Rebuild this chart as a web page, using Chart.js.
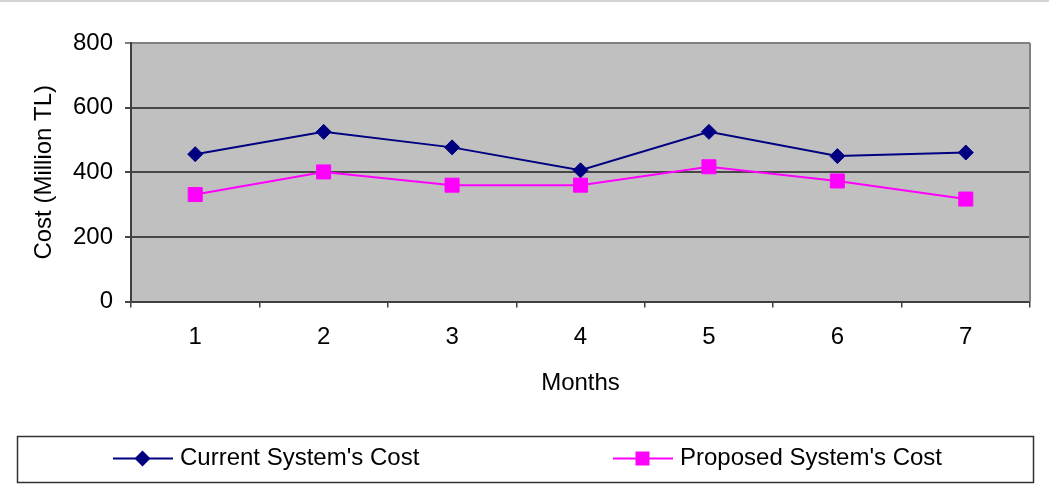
<!DOCTYPE html>
<html>
<head>
<meta charset="utf-8">
<script src="https://cdn.jsdelivr.net/npm/chart.js@4/dist/chart.umd.min.js"></script>
<style>
  body { margin: 0; background: #fff; }
  canvas { display: block; }
</style>
</head>
<body>
<canvas id="chart" width="1049" height="491"></canvas>
<script>
const months = ['1', '2', '3', '4', '5', '6', '7'];
const currentCost = [456, 525, 477, 406, 525, 450, 461];
const proposedCost = [331, 401, 360, 360, 417, 373, 317];
const yTicks = [0, 200, 400, 600, 800];
const seriesNames = ["Current System's Cost", "Proposed System's Cost"];

const fontFamily = '"Liberation Sans", Arial, sans-serif';

// plot background, borders, top rule and the boxed legend
const excelLook = {
  id: 'excelLook',
  beforeDraw (chart) {
    const {ctx, chartArea: a} = chart;
    ctx.save();
    ctx.fillStyle = '#c0c0c0';
    ctx.fillRect(a.left, a.top, a.right - a.left, a.bottom - a.top);
    ctx.strokeStyle = '#d4d4d4';
    ctx.lineWidth = 2;
    ctx.beginPath();
    ctx.moveTo(0, 1);
    ctx.lineTo(chart.width, 1);
    ctx.stroke();
    ctx.restore();
  },
  afterDraw (chart) {
    const {ctx, chartArea: a} = chart;
    ctx.save();
    // right border
    ctx.strokeStyle = '#808080';
    ctx.lineWidth = 2;
    ctx.beginPath();
    ctx.moveTo(a.right, a.top);
    ctx.lineTo(a.right, a.bottom);
    ctx.stroke();

    // legend box
    ctx.strokeStyle = '#333';
    ctx.lineWidth = 1.5;
    ctx.strokeRect(17.5, 436.5, 1016, 46);

    const y = 458.5;
    const starts = [113, 613];
    chart.data.datasets.forEach((ds, i) => {
      const x0 = starts[i];
      ctx.strokeStyle = ds.borderColor;
      ctx.lineWidth = 2;
      ctx.beginPath();
      ctx.moveTo(x0, y);
      ctx.lineTo(x0 + 60, y);
      ctx.stroke();
      const cx = x0 + 29.5;
      ctx.fillStyle = ds.backgroundColor;
      ctx.beginPath();
      if (ds.pointStyle === 'rectRot') {
        const r = 8;
        ctx.moveTo(cx, y - r);
        ctx.lineTo(cx + r, y);
        ctx.lineTo(cx, y + r);
        ctx.lineTo(cx - r, y);
        ctx.closePath();
      } else {
        const h = 7;
        ctx.rect(cx - h, y - h, 2 * h, 2 * h);
      }
      ctx.fill();
      ctx.fillStyle = '#000';
      ctx.font = '24px ' + fontFamily;
      ctx.textBaseline = 'middle';
      ctx.textAlign = 'left';
      ctx.fillText(ds.label, x0 + 67, y);
    });
    ctx.restore();
  }
};

new Chart(document.getElementById('chart'), {
  type: 'line',
  data: {
    labels: months,
    datasets: [{
      label: seriesNames[0],
      data: currentCost,
      borderColor: '#000080',
      backgroundColor: '#000080',
      borderWidth: 2,
      pointStyle: 'rectRot',
      pointRadius: 7.5,
      pointBorderWidth: 1,
      tension: 0
    }, {
      label: seriesNames[1],
      data: proposedCost,
      borderColor: '#ff00ff',
      backgroundColor: '#ff00ff',
      borderWidth: 2,
      pointStyle: 'rect',
      pointRadius: 9.9,
      pointBorderWidth: 1,
      tension: 0
    }]
  },
  options: {
    responsive: false,
    animation: false,
    devicePixelRatio: 1,
    layout: {padding: {top: 43, right: 19, bottom: 91, left: 0}},
    plugins: {
      legend: {display: false},
      tooltip: {enabled: false}
    },
    scales: {
      x: {
        type: 'category',
        offset: true,
        grid: {
          offset: true,
          drawOnChartArea: false,
          tickLength: 6,
          color: '#404040',
          lineWidth: 1.5
        },
        border: {color: '#404040', width: 2},
        ticks: {
          padding: 15,
          color: '#000',
          font: {family: fontFamily, size: 24}
        },
        title: {
          display: true,
          text: 'Months',
          color: '#000',
          font: {family: fontFamily, size: 24},
          padding: {top: 0, bottom: 2}
        },
        afterFit: (s) => { s.height = 98.5; }
      },
      y: {
        min: yTicks[0],
        max: yTicks[yTicks.length - 1],
        grid: {
          color: (c) => (c.tick && c.tick.value === yTicks[yTicks.length - 1]) ? '#808080' : '#474747',
          lineWidth: 2,
          tickLength: 6
        },
        border: {color: '#404040', width: 2},
        ticks: {
          stepSize: yTicks[1] - yTicks[0],
          padding: 12,
          color: '#000',
          font: {family: fontFamily, size: 24}
        },
        title: {
          display: true,
          text: 'Cost (Million TL)',
          color: '#000',
          font: {family: fontFamily, size: 24},
          padding: {top: 29.6, bottom: 0}
        },
        afterFit: (s) => { s.width = 131; }
      }
    }
  },
  plugins: [excelLook]
});
</script>
</body>
</html>
